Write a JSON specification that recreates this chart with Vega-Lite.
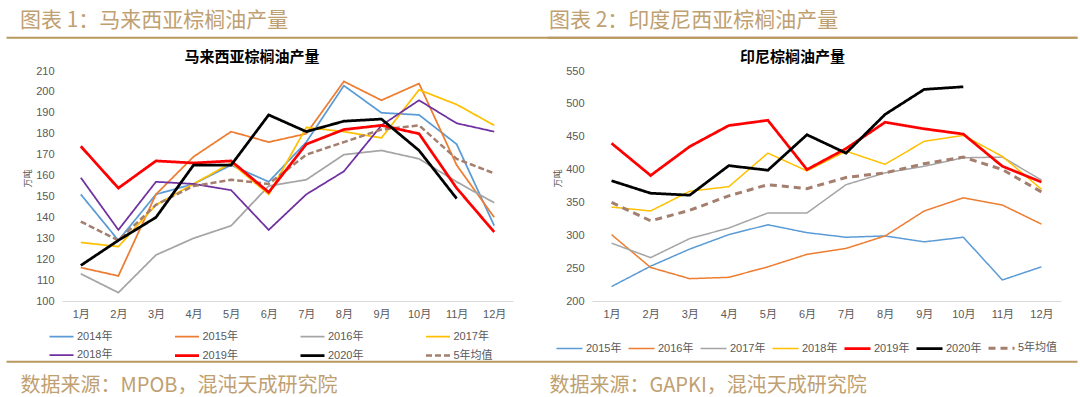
{
  "$schema": "https://vega.github.io/schema/vega-lite/v6.json",
  "autosize": {"type": "pad"},
  "padding": {"left": 20, "top": 10, "right": 0, "bottom": 6},
  "background": "white",
  "datasets": {
    "my": [
      {"s": "2014年", "m": "1月", "v": 151}, {"s": "2014年", "m": "2月", "v": 129}, {"s": "2014年", "m": "3月", "v": 151}, {"s": "2014年", "m": "4月", "v": 156}, {"s": "2014年", "m": "5月", "v": 165}, {"s": "2014年", "m": "6月", "v": 157}, {"s": "2014年", "m": "7月", "v": 176}, {"s": "2014年", "m": "8月", "v": 203}, {"s": "2014年", "m": "9月", "v": 190}, {"s": "2014年", "m": "10月", "v": 189}, {"s": "2014年", "m": "11月", "v": 175}, {"s": "2014年", "m": "12月", "v": 136},
      {"s": "2015年", "m": "1月", "v": 116}, {"s": "2015年", "m": "2月", "v": 112}, {"s": "2015年", "m": "3月", "v": 151}, {"s": "2015年", "m": "4月", "v": 169}, {"s": "2015年", "m": "5月", "v": 181}, {"s": "2015年", "m": "6月", "v": 176}, {"s": "2015年", "m": "7月", "v": 180}, {"s": "2015年", "m": "8月", "v": 205}, {"s": "2015年", "m": "9月", "v": 196}, {"s": "2015年", "m": "10月", "v": 204}, {"s": "2015年", "m": "11月", "v": 165}, {"s": "2015年", "m": "12月", "v": 140},
      {"s": "2016年", "m": "1月", "v": 113}, {"s": "2016年", "m": "2月", "v": 104}, {"s": "2016年", "m": "3月", "v": 122}, {"s": "2016年", "m": "4月", "v": 130}, {"s": "2016年", "m": "5月", "v": 136}, {"s": "2016年", "m": "6月", "v": 155}, {"s": "2016年", "m": "7月", "v": 158}, {"s": "2016年", "m": "8月", "v": 170}, {"s": "2016年", "m": "9月", "v": 172}, {"s": "2016年", "m": "10月", "v": 168}, {"s": "2016年", "m": "11月", "v": 157}, {"s": "2016年", "m": "12月", "v": 147},
      {"s": "2017年", "m": "1月", "v": 128}, {"s": "2017年", "m": "2月", "v": 126}, {"s": "2017年", "m": "3月", "v": 146}, {"s": "2017年", "m": "4月", "v": 156}, {"s": "2017年", "m": "5月", "v": 166}, {"s": "2017年", "m": "6月", "v": 151}, {"s": "2017年", "m": "7月", "v": 183}, {"s": "2017年", "m": "8月", "v": 181}, {"s": "2017年", "m": "9月", "v": 178}, {"s": "2017年", "m": "10月", "v": 201}, {"s": "2017年", "m": "11月", "v": 194}, {"s": "2017年", "m": "12月", "v": 184},
      {"s": "2018年", "m": "1月", "v": 159}, {"s": "2018年", "m": "2月", "v": 134}, {"s": "2018年", "m": "3月", "v": 157}, {"s": "2018年", "m": "4月", "v": 156}, {"s": "2018年", "m": "5月", "v": 153}, {"s": "2018年", "m": "6月", "v": 134}, {"s": "2018年", "m": "7月", "v": 151}, {"s": "2018年", "m": "8月", "v": 162}, {"s": "2018年", "m": "9月", "v": 184}, {"s": "2018年", "m": "10月", "v": 196}, {"s": "2018年", "m": "11月", "v": 185}, {"s": "2018年", "m": "12月", "v": 181},
      {"s": "5年均值", "m": "1月", "v": 138}, {"s": "5年均值", "m": "2月", "v": 129}, {"s": "5年均值", "m": "3月", "v": 146}, {"s": "5年均值", "m": "4月", "v": 155}, {"s": "5年均值", "m": "5月", "v": 158}, {"s": "5年均值", "m": "6月", "v": 156}, {"s": "5年均值", "m": "7月", "v": 170}, {"s": "5年均值", "m": "8月", "v": 176}, {"s": "5年均值", "m": "9月", "v": 182}, {"s": "5年均值", "m": "10月", "v": 184}, {"s": "5年均值", "m": "11月", "v": 168}, {"s": "5年均值", "m": "12月", "v": 161},
      {"s": "2019年", "m": "1月", "v": 174}, {"s": "2019年", "m": "2月", "v": 154}, {"s": "2019年", "m": "3月", "v": 167}, {"s": "2019年", "m": "4月", "v": 166}, {"s": "2019年", "m": "5月", "v": 167}, {"s": "2019年", "m": "6月", "v": 152}, {"s": "2019年", "m": "7月", "v": 175}, {"s": "2019年", "m": "8月", "v": 182}, {"s": "2019年", "m": "9月", "v": 184}, {"s": "2019年", "m": "10月", "v": 180}, {"s": "2019年", "m": "11月", "v": 154}, {"s": "2019年", "m": "12月", "v": 133},
      {"s": "2020年", "m": "1月", "v": 117}, {"s": "2020年", "m": "2月", "v": 129}, {"s": "2020年", "m": "3月", "v": 140}, {"s": "2020年", "m": "4月", "v": 165}, {"s": "2020年", "m": "5月", "v": 165}, {"s": "2020年", "m": "6月", "v": 189}, {"s": "2020年", "m": "7月", "v": 181}, {"s": "2020年", "m": "8月", "v": 186}, {"s": "2020年", "m": "9月", "v": 187}, {"s": "2020年", "m": "10月", "v": 172}, {"s": "2020年", "m": "11月", "v": 149}
    ],
    "id": [
      {"s": "2015年", "m": "1月", "v": 222}, {"s": "2015年", "m": "2月", "v": 253}, {"s": "2015年", "m": "3月", "v": 279}, {"s": "2015年", "m": "4月", "v": 301}, {"s": "2015年", "m": "5月", "v": 316}, {"s": "2015年", "m": "6月", "v": 304}, {"s": "2015年", "m": "7月", "v": 297}, {"s": "2015年", "m": "8月", "v": 299}, {"s": "2015年", "m": "9月", "v": 290}, {"s": "2015年", "m": "10月", "v": 297}, {"s": "2015年", "m": "11月", "v": 232}, {"s": "2015年", "m": "12月", "v": 252},
      {"s": "2016年", "m": "1月", "v": 301}, {"s": "2016年", "m": "2月", "v": 251}, {"s": "2016年", "m": "3月", "v": 234}, {"s": "2016年", "m": "4月", "v": 236}, {"s": "2016年", "m": "5月", "v": 252}, {"s": "2016年", "m": "6月", "v": 271}, {"s": "2016年", "m": "7月", "v": 280}, {"s": "2016年", "m": "8月", "v": 299}, {"s": "2016年", "m": "9月", "v": 337}, {"s": "2016年", "m": "10月", "v": 357}, {"s": "2016年", "m": "11月", "v": 346}, {"s": "2016年", "m": "12月", "v": 317},
      {"s": "2017年", "m": "1月", "v": 288}, {"s": "2017年", "m": "2月", "v": 266}, {"s": "2017年", "m": "3月", "v": 295}, {"s": "2017年", "m": "4月", "v": 311}, {"s": "2017年", "m": "5月", "v": 334}, {"s": "2017年", "m": "6月", "v": 334}, {"s": "2017年", "m": "7月", "v": 377}, {"s": "2017年", "m": "8月", "v": 395}, {"s": "2017年", "m": "9月", "v": 405}, {"s": "2017年", "m": "10月", "v": 418}, {"s": "2017年", "m": "11月", "v": 419}, {"s": "2017年", "m": "12月", "v": 384},
      {"s": "2018年", "m": "1月", "v": 343}, {"s": "2018年", "m": "2月", "v": 337}, {"s": "2018年", "m": "3月", "v": 367}, {"s": "2018年", "m": "4月", "v": 374}, {"s": "2018年", "m": "5月", "v": 425}, {"s": "2018年", "m": "6月", "v": 398}, {"s": "2018年", "m": "7月", "v": 428}, {"s": "2018年", "m": "8月", "v": 408}, {"s": "2018年", "m": "9月", "v": 443}, {"s": "2018年", "m": "10月", "v": 452}, {"s": "2018年", "m": "11月", "v": 420}, {"s": "2018年", "m": "12月", "v": 370},
      {"s": "5年均值", "m": "1月", "v": 350}, {"s": "5年均值", "m": "2月", "v": 322}, {"s": "5年均值", "m": "3月", "v": 338}, {"s": "5年均值", "m": "4月", "v": 360}, {"s": "5年均值", "m": "5月", "v": 377}, {"s": "5年均值", "m": "6月", "v": 371}, {"s": "5年均值", "m": "7月", "v": 388}, {"s": "5年均值", "m": "8月", "v": 395}, {"s": "5年均值", "m": "9月", "v": 409}, {"s": "5年均值", "m": "10月", "v": 419}, {"s": "5年均值", "m": "11月", "v": 400}, {"s": "5年均值", "m": "12月", "v": 366},
      {"s": "2019年", "m": "1月", "v": 440}, {"s": "2019年", "m": "2月", "v": 391}, {"s": "2019年", "m": "3月", "v": 435}, {"s": "2019年", "m": "4月", "v": 467}, {"s": "2019年", "m": "5月", "v": 475}, {"s": "2019年", "m": "6月", "v": 400}, {"s": "2019年", "m": "7月", "v": 432}, {"s": "2019年", "m": "8月", "v": 472}, {"s": "2019年", "m": "9月", "v": 462}, {"s": "2019年", "m": "10月", "v": 454}, {"s": "2019年", "m": "11月", "v": 405}, {"s": "2019年", "m": "12月", "v": 381},
      {"s": "2020年", "m": "1月", "v": 383}, {"s": "2020年", "m": "2月", "v": 364}, {"s": "2020年", "m": "3月", "v": 361}, {"s": "2020年", "m": "4月", "v": 406}, {"s": "2020年", "m": "5月", "v": 399}, {"s": "2020年", "m": "6月", "v": 453}, {"s": "2020年", "m": "7月", "v": 425}, {"s": "2020年", "m": "8月", "v": 484}, {"s": "2020年", "m": "9月", "v": 522}, {"s": "2020年", "m": "10月", "v": 526}
    ]
  },
  "config": {
    "view": {"stroke": null},
    "font": "Liberation Sans, Noto Sans CJK SC",
    "axis": {"labelFont": "Liberation Sans, Noto Sans CJK SC", "labelFontSize": 11, "labelColor": "#595959", "grid": false, "ticks": false},
    "legend": {"labelFont": "Liberation Sans, Noto Sans CJK SC", "labelFontSize": 11, "labelColor": "#595959", "padding": 0, "labelOffset": 2, "symbolType": "stroke", "gridAlign": "all"}
  },
  "spacing": 79,
  "bounds": "flush",
  "resolve": {"scale": {"color": "independent", "strokeDash": "independent", "strokeWidth": "independent"}, "legend": {"color": "independent", "strokeDash": "independent", "strokeWidth": "independent"}},
  "hconcat": [
    {
      "width": 451,
      "height": 230,
      "title": {"text": "图表 1：马来西亚棕榈油产量", "anchor": "start", "frame": "group", "dx": -42, "offset": 6, "font": "Noto Sans CJK SC", "fontSize": 21, "fontWeight": "normal", "color": "#BFA071"},
      "layer": [
        {
          "data": {"name": "my"},
          "mark": {"type": "line"},
          "encoding": {
            "x": {"field": "m", "type": "ordinal", "sort": ["1月","2月","3月","4月","5月","6月","7月","8月","9月","10月","11月","12月"],
              "axis": {"orient": "bottom", "labelAngle": 0, "labelPadding": 7, "domainColor": "#D9D9D9", "domainWidth": 1,
                "title": "数据来源：MPOB，混沌天成研究院", "titleX": -42, "titleY": 84, "titleAlign": "left", "titleBaseline": "middle", "titleFont": "Noto Sans CJK SC", "titleFontSize": 20, "titleFontWeight": "normal", "titleColor": "#BFA071"}},
            "y": {"field": "v", "type": "quantitative", "scale": {"domain": [100, 210], "nice": false, "zero": false},
              "axis": {"values": [100,110,120,130,140,150,160,170,180,190,200,210], "domain": false, "labelPadding": 8, "title": "万吨", "titleFont": "Noto Sans CJK SC", "titleFontSize": 9, "titleFontWeight": "normal", "titleColor": "#595959", "titlePadding": 3, "titleY": 107}},
            "color": {"field": "s", "type": "nominal",
              "scale": {"domain": ["2014年","2015年","2016年","2017年","2018年","2019年","2020年","5年均值"], "range": ["#5B9BD5","#ED7D31","#A5A5A5","#FFC000","#7030A0","#FF0000","#000000","#A47E6E"]},
              "legend": {"orient": "none", "legendX": -14, "legendY": 252, "direction": "horizontal", "columns": 4, "title": null, "symbolSize": 576, "columnPadding": 52.5, "rowPadding": -14}},
            "strokeDash": {"field": "s", "type": "nominal",
              "scale": {"domain": ["2014年","2015年","2016年","2017年","2018年","2019年","2020年","5年均值"], "range": [[1,0],[1,0],[1,0],[1,0],[1,0],[1,0],[1,0],[6,3]]}},
            "strokeWidth": {"field": "s", "type": "nominal",
              "scale": {"type": "ordinal", "domain": ["2014年","2015年","2016年","2017年","2018年","2019年","2020年","5年均值"], "range": [1.75,1.75,1.75,1.75,1.75,2.75,2.75,2.5]}}
          }
        },
        {
          "data": {"values": []},
          "mark": "rule",
          "encoding": {
            "x": {"field": "g", "type": "quantitative", "scale": {"domain": [0, 1], "range": [-56, 1015], "nice": false, "zero": false},
              "axis": {"orient": "top", "offset": 33.7, "domainColor": "#B8995F", "domainWidth": 2, "labels": false, "ticks": false, "grid": false,
                "title": "马来西亚棕榈油产量", "titleX": 189.5, "titleY": 19, "titleAlign": "center", "titleBaseline": "middle", "titleFont": "Noto Sans CJK SC", "titleFontSize": 15, "titleFontWeight": "bold", "titleColor": "#000000"}}
          }
        },
        {
          "data": {"values": []},
          "mark": "rule",
          "encoding": {
            "x": {"field": "g", "type": "quantitative", "scale": {"domain": [0, 1], "range": [-56, 1015], "nice": false, "zero": false},
              "axis": {"orient": "bottom", "offset": 60.3, "domainColor": "#B8995F", "domainWidth": 2, "labels": false, "ticks": false, "grid": false, "title": null}}
          }
        }
      ],
      "resolve": {"scale": {"x": "independent"}, "axis": {"x": "independent"}}
    },
    {
      "width": 469,
      "height": 230,
      "title": {"text": "图表 2：印度尼西亚棕榈油产量", "anchor": "start", "frame": "group", "dx": -43, "offset": 6, "font": "Noto Sans CJK SC", "fontSize": 21, "fontWeight": "normal", "color": "#BFA071"},
      "layer": [
        {
          "data": {"name": "id"},
          "mark": {"type": "line"},
          "encoding": {
            "x": {"field": "m", "type": "ordinal", "sort": ["1月","2月","3月","4月","5月","6月","7月","8月","9月","10月","11月","12月"],
              "axis": {"orient": "bottom", "labelAngle": 0, "labelPadding": 7, "domainColor": "#D9D9D9", "domainWidth": 1,
                "title": "数据来源：GAPKI，混沌天成研究院", "titleX": -43, "titleY": 84, "titleAlign": "left", "titleBaseline": "middle", "titleFont": "Noto Sans CJK SC", "titleFontSize": 20, "titleFontWeight": "normal", "titleColor": "#BFA071"}},
            "y": {"field": "v", "type": "quantitative", "scale": {"domain": [200, 550], "nice": false, "zero": false},
              "axis": {"values": [200,250,300,350,400,450,500,550], "domain": false, "labelPadding": 8, "title": "万吨", "titleFont": "Noto Sans CJK SC", "titleFontSize": 9, "titleFontWeight": "normal", "titleColor": "#595959", "titlePadding": 3, "titleY": 107}},
            "color": {"field": "s", "type": "nominal",
              "scale": {"domain": ["2015年","2016年","2017年","2018年","2019年","2020年","5年均值"], "range": ["#5B9BD5","#ED7D31","#A5A5A5","#FFC000","#FF0000","#000000","#A47E6E"]},
              "legend": {"orient": "none", "legendX": -37, "legendY": 262.5, "direction": "horizontal", "columns": 7, "title": null, "symbolSize": 676, "columnPadding": -4}},
            "strokeDash": {"field": "s", "type": "nominal",
              "scale": {"domain": ["2015年","2016年","2017年","2018年","2019年","2020年","5年均值"], "range": [[1,0],[1,0],[1,0],[1,0],[1,0],[1,0],[7,5]]}},
            "strokeWidth": {"field": "s", "type": "nominal",
              "scale": {"type": "ordinal", "domain": ["2015年","2016年","2017年","2018年","2019年","2020年","5年均值"], "range": [1.5,1.5,1.5,1.5,2.75,2.75,3]}}
          }
        },
        {
          "data": {"values": []},
          "mark": "rule",
          "encoding": {
            "x": {"field": "g", "type": "quantitative", "scale": {"domain": [0, 1], "range": [-45, 485], "nice": false, "zero": false},
              "axis": {"orient": "top", "offset": 33.7, "domainColor": "#B8995F", "domainWidth": 2, "labels": false, "ticks": false, "grid": false,
                "title": "印尼棕榈油产量", "titleX": 200, "titleY": 19, "titleAlign": "center", "titleBaseline": "middle", "titleFont": "Noto Sans CJK SC", "titleFontSize": 15, "titleFontWeight": "bold", "titleColor": "#000000"}}
          }
        }
      ],
      "resolve": {"scale": {"x": "independent"}, "axis": {"x": "independent"}}
    }
  ]
}
